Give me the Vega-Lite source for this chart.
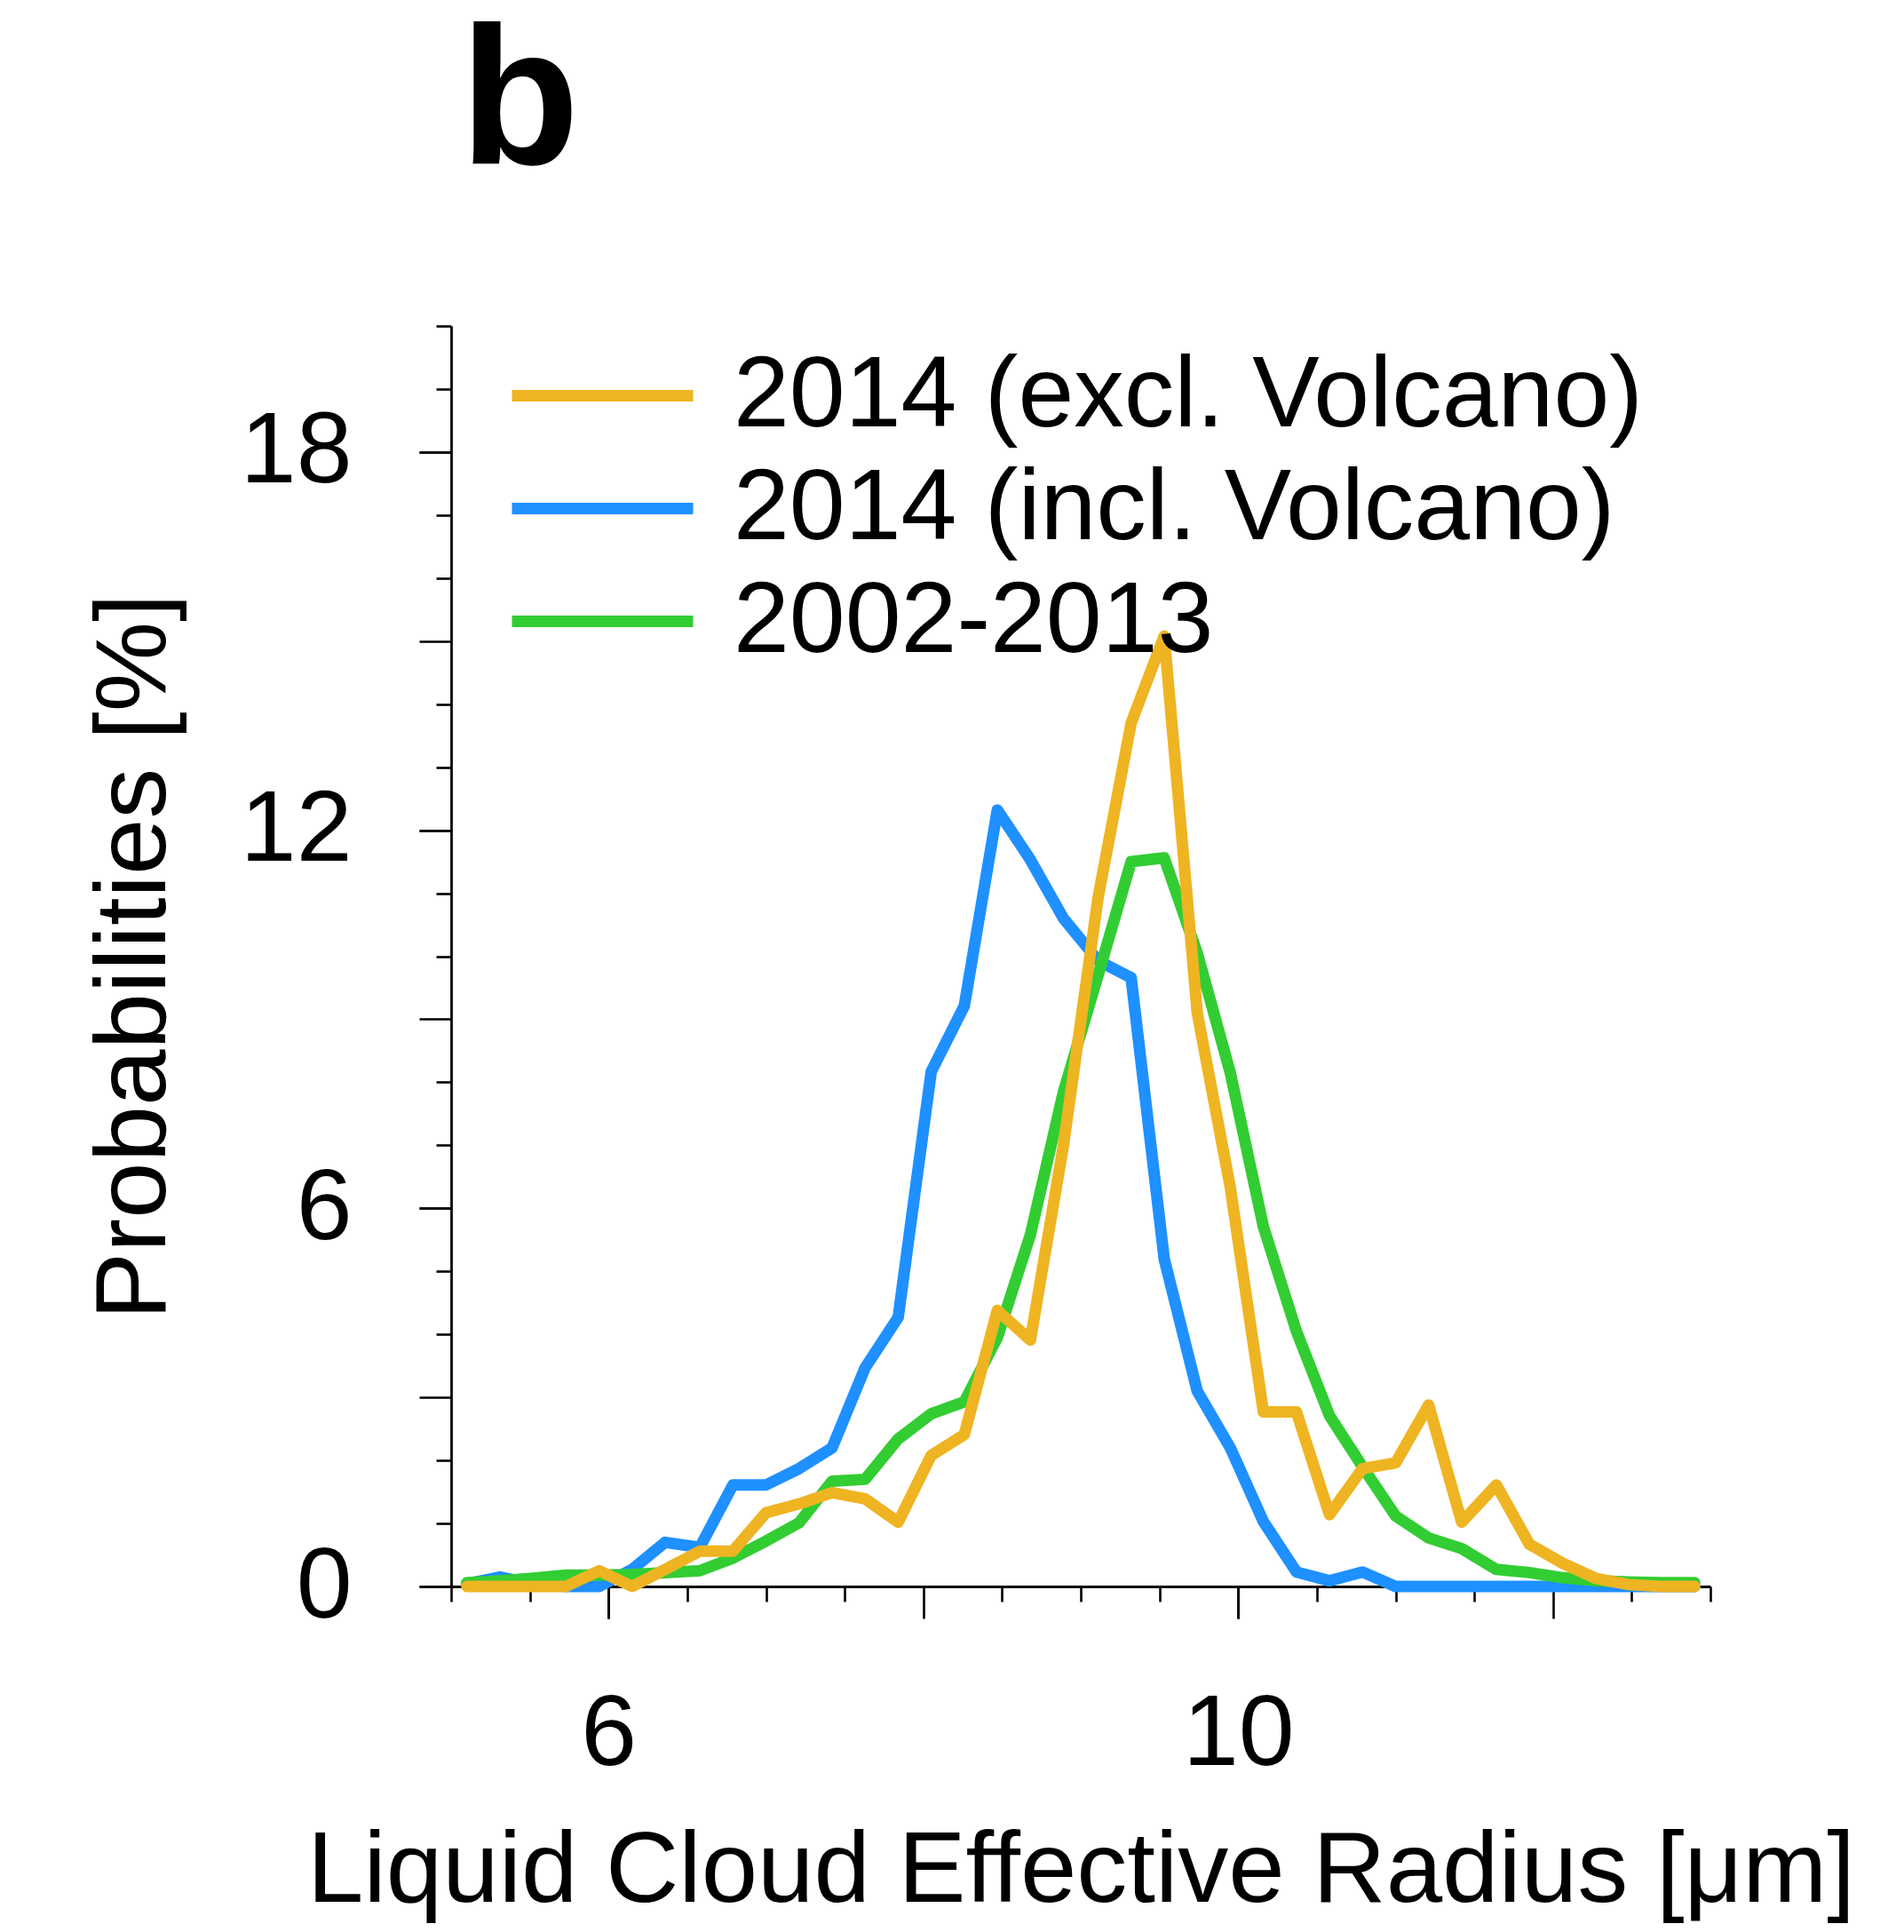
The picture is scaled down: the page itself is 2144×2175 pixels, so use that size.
{
  "$schema": "https://vega.github.io/schema/vega-lite/v6.json",
  "width": 1418,
  "height": 1419,
  "autosize": {"type": "none"},
  "padding": {"left": 508, "top": 367, "right": 218, "bottom": 389},
  "background": "white",
  "title": {"text": "b", "anchor": "start", "frame": "group", "baseline": "alphabetic", "fontSize": 220, "fontWeight": "bold", "font": "Liberation Sans", "color": "black", "offset": -38, "dx": 10},
  "config": {
    "view": {"stroke": null},
    "font": "Liberation Sans",
    "axis": {"grid": false, "domainColor": "black", "domainWidth": 2.8, "tickColor": "black", "tickWidth": 2.6, "labelColor": "black", "titleColor": "black", "labelFont": "Liberation Sans", "titleFont": "Liberation Sans", "labelFontSize": 113, "titleFontSize": 114, "titleFontWeight": "normal", "labelOverlap": false, "labelFlush": false, "labelLimit": 1000}
  },
  "datasets": {
    "series": [
      {"r": 5.10, "p": 0.04, "s": "2014 (incl. Volcano)"},
      {"r": 5.31, "p": 0.15, "s": "2014 (incl. Volcano)"},
      {"r": 5.52, "p": 0.04, "s": "2014 (incl. Volcano)"},
      {"r": 5.73, "p": 0.0, "s": "2014 (incl. Volcano)"},
      {"r": 5.94, "p": 0.0, "s": "2014 (incl. Volcano)"},
      {"r": 6.15, "p": 0.27, "s": "2014 (incl. Volcano)"},
      {"r": 6.36, "p": 0.70, "s": "2014 (incl. Volcano)"},
      {"r": 6.58, "p": 0.62, "s": "2014 (incl. Volcano)"},
      {"r": 6.79, "p": 1.61, "s": "2014 (incl. Volcano)"},
      {"r": 7.00, "p": 1.61, "s": "2014 (incl. Volcano)"},
      {"r": 7.21, "p": 1.87, "s": "2014 (incl. Volcano)"},
      {"r": 7.42, "p": 2.20, "s": "2014 (incl. Volcano)"},
      {"r": 7.63, "p": 3.47, "s": "2014 (incl. Volcano)"},
      {"r": 7.84, "p": 4.27, "s": "2014 (incl. Volcano)"},
      {"r": 8.05, "p": 8.17, "s": "2014 (incl. Volcano)"},
      {"r": 8.26, "p": 9.21, "s": "2014 (incl. Volcano)"},
      {"r": 8.47, "p": 12.32, "s": "2014 (incl. Volcano)"},
      {"r": 8.68, "p": 11.53, "s": "2014 (incl. Volcano)"},
      {"r": 8.89, "p": 10.6, "s": "2014 (incl. Volcano)"},
      {"r": 9.11, "p": 9.93, "s": "2014 (incl. Volcano)"},
      {"r": 9.32, "p": 9.66, "s": "2014 (incl. Volcano)"},
      {"r": 9.53, "p": 5.2, "s": "2014 (incl. Volcano)"},
      {"r": 9.74, "p": 3.1, "s": "2014 (incl. Volcano)"},
      {"r": 9.95, "p": 2.2, "s": "2014 (incl. Volcano)"},
      {"r": 10.16, "p": 1.03, "s": "2014 (incl. Volcano)"},
      {"r": 10.37, "p": 0.23, "s": "2014 (incl. Volcano)"},
      {"r": 10.58, "p": 0.09, "s": "2014 (incl. Volcano)"},
      {"r": 10.79, "p": 0.23, "s": "2014 (incl. Volcano)"},
      {"r": 11.00, "p": 0.0, "s": "2014 (incl. Volcano)"},
      {"r": 11.21, "p": 0.0, "s": "2014 (incl. Volcano)"},
      {"r": 11.42, "p": 0.0, "s": "2014 (incl. Volcano)"},
      {"r": 11.64, "p": 0.0, "s": "2014 (incl. Volcano)"},
      {"r": 11.85, "p": 0.0, "s": "2014 (incl. Volcano)"},
      {"r": 12.06, "p": 0.0, "s": "2014 (incl. Volcano)"},
      {"r": 12.27, "p": 0.0, "s": "2014 (incl. Volcano)"},
      {"r": 12.48, "p": 0.0, "s": "2014 (incl. Volcano)"},
      {"r": 12.69, "p": 0.0, "s": "2014 (incl. Volcano)"},
      {"r": 12.90, "p": 0.0, "s": "2014 (incl. Volcano)"},
      {"r": 5.10, "p": 0.06, "s": "2002-2013"},
      {"r": 5.31, "p": 0.09, "s": "2002-2013"},
      {"r": 5.52, "p": 0.13, "s": "2002-2013"},
      {"r": 5.73, "p": 0.18, "s": "2002-2013"},
      {"r": 5.94, "p": 0.18, "s": "2002-2013"},
      {"r": 6.15, "p": 0.19, "s": "2002-2013"},
      {"r": 6.36, "p": 0.22, "s": "2002-2013"},
      {"r": 6.58, "p": 0.25, "s": "2002-2013"},
      {"r": 6.79, "p": 0.45, "s": "2002-2013"},
      {"r": 7.00, "p": 0.72, "s": "2002-2013"},
      {"r": 7.21, "p": 1.01, "s": "2002-2013"},
      {"r": 7.42, "p": 1.67, "s": "2002-2013"},
      {"r": 7.63, "p": 1.70, "s": "2002-2013"},
      {"r": 7.84, "p": 2.34, "s": "2002-2013"},
      {"r": 8.05, "p": 2.74, "s": "2002-2013"},
      {"r": 8.26, "p": 2.93, "s": "2002-2013"},
      {"r": 8.47, "p": 3.95, "s": "2002-2013"},
      {"r": 8.68, "p": 5.58, "s": "2002-2013"},
      {"r": 8.89, "p": 7.85, "s": "2002-2013"},
      {"r": 9.11, "p": 9.7, "s": "2002-2013"},
      {"r": 9.32, "p": 11.5, "s": "2002-2013"},
      {"r": 9.53, "p": 11.56, "s": "2002-2013"},
      {"r": 9.74, "p": 10.05, "s": "2002-2013"},
      {"r": 9.95, "p": 8.15, "s": "2002-2013"},
      {"r": 10.16, "p": 5.71, "s": "2002-2013"},
      {"r": 10.37, "p": 4.05, "s": "2002-2013"},
      {"r": 10.58, "p": 2.71, "s": "2002-2013"},
      {"r": 10.79, "p": 1.9, "s": "2002-2013"},
      {"r": 11.00, "p": 1.12, "s": "2002-2013"},
      {"r": 11.21, "p": 0.77, "s": "2002-2013"},
      {"r": 11.42, "p": 0.60, "s": "2002-2013"},
      {"r": 11.64, "p": 0.27, "s": "2002-2013"},
      {"r": 11.85, "p": 0.22, "s": "2002-2013"},
      {"r": 12.06, "p": 0.14, "s": "2002-2013"},
      {"r": 12.27, "p": 0.09, "s": "2002-2013"},
      {"r": 12.48, "p": 0.07, "s": "2002-2013"},
      {"r": 12.69, "p": 0.06, "s": "2002-2013"},
      {"r": 12.90, "p": 0.06, "s": "2002-2013"},
      {"r": 5.10, "p": 0.0, "s": "2014 (excl. Volcano)"},
      {"r": 5.31, "p": 0.0, "s": "2014 (excl. Volcano)"},
      {"r": 5.52, "p": 0.0, "s": "2014 (excl. Volcano)"},
      {"r": 5.73, "p": 0.0, "s": "2014 (excl. Volcano)"},
      {"r": 5.94, "p": 0.25, "s": "2014 (excl. Volcano)"},
      {"r": 6.15, "p": 0.0, "s": "2014 (excl. Volcano)"},
      {"r": 6.36, "p": 0.27, "s": "2014 (excl. Volcano)"},
      {"r": 6.58, "p": 0.56, "s": "2014 (excl. Volcano)"},
      {"r": 6.79, "p": 0.56, "s": "2014 (excl. Volcano)"},
      {"r": 7.00, "p": 1.17, "s": "2014 (excl. Volcano)"},
      {"r": 7.21, "p": 1.31, "s": "2014 (excl. Volcano)"},
      {"r": 7.42, "p": 1.49, "s": "2014 (excl. Volcano)"},
      {"r": 7.63, "p": 1.39, "s": "2014 (excl. Volcano)"},
      {"r": 7.84, "p": 1.02, "s": "2014 (excl. Volcano)"},
      {"r": 8.05, "p": 2.08, "s": "2014 (excl. Volcano)"},
      {"r": 8.26, "p": 2.41, "s": "2014 (excl. Volcano)"},
      {"r": 8.47, "p": 4.38, "s": "2014 (excl. Volcano)"},
      {"r": 8.68, "p": 3.91, "s": "2014 (excl. Volcano)"},
      {"r": 8.89, "p": 7.0, "s": "2014 (excl. Volcano)"},
      {"r": 9.11, "p": 10.93, "s": "2014 (excl. Volcano)"},
      {"r": 9.32, "p": 13.7, "s": "2014 (excl. Volcano)"},
      {"r": 9.53, "p": 15.08, "s": "2014 (excl. Volcano)"},
      {"r": 9.74, "p": 9.1, "s": "2014 (excl. Volcano)"},
      {"r": 9.95, "p": 6.33, "s": "2014 (excl. Volcano)"},
      {"r": 10.16, "p": 2.77, "s": "2014 (excl. Volcano)"},
      {"r": 10.37, "p": 2.77, "s": "2014 (excl. Volcano)"},
      {"r": 10.58, "p": 1.14, "s": "2014 (excl. Volcano)"},
      {"r": 10.79, "p": 1.87, "s": "2014 (excl. Volcano)"},
      {"r": 11.00, "p": 1.96, "s": "2014 (excl. Volcano)"},
      {"r": 11.21, "p": 2.88, "s": "2014 (excl. Volcano)"},
      {"r": 11.42, "p": 1.02, "s": "2014 (excl. Volcano)"},
      {"r": 11.64, "p": 1.61, "s": "2014 (excl. Volcano)"},
      {"r": 11.85, "p": 0.67, "s": "2014 (excl. Volcano)"},
      {"r": 12.06, "p": 0.37, "s": "2014 (excl. Volcano)"},
      {"r": 12.27, "p": 0.13, "s": "2014 (excl. Volcano)"},
      {"r": 12.48, "p": 0.03, "s": "2014 (excl. Volcano)"},
      {"r": 12.69, "p": 0.0, "s": "2014 (excl. Volcano)"},
      {"r": 12.90, "p": 0.0, "s": "2014 (excl. Volcano)"}
    ]
  },
  "data": {"name": "series"},
  "layer": [
    {
      "mark": {"type": "line", "strokeWidth": 13, "strokeCap": "round", "strokeJoin": "round"},
      "encoding": {
        "x": {
          "field": "r", "type": "quantitative",
          "scale": {"domain": [5, 13], "nice": false, "zero": false},
          "axis": {
            "orient": "bottom",
            "values": [6, 10],
            "tickSize": 36,
            "domain": false,
            "format": "d",
            "labelPadding": 75,
            "title": "Liquid Cloud Effective Radius [μm]",
            "titleBaseline": "alphabetic",
            "titleY": 354
          }
        },
        "y": {
          "field": "p", "type": "quantitative",
          "scale": {"domain": [0, 20], "nice": false, "zero": true},
          "axis": {
            "orient": "left",
            "values": [0, 6, 12, 18],
            "tickSize": 36,
            "domain": false,
            "format": "d",
            "labelPadding": 76,
            "title": "Probabilities [%]",
            "titleBaseline": "alphabetic",
            "titleX": -323,
            "titleAlign": "center"
          }
        },
        "color": {
          "field": "s", "type": "nominal",
          "scale": {"domain": ["2014 (excl. Volcano)", "2014 (incl. Volcano)", "2002-2013"], "range": ["#EEB422", "#1E90FF", "#32CD32"]},
          "legend": {
            "orient": "none", "legendX": 114, "legendY": 22, "title": null,
            "symbolType": "M-3,0H3", "symbolSize": 4624, "symbolStrokeWidth": 13,
            "labelFontSize": 113, "labelFont": "Liberation Sans", "labelColor": "black",
            "labelOffset": 91, "labelLimit": 3000, "rowPadding": 13, "padding": 0
          }
        }
      }
    },
    {
      "transform": [{"filter": "false"}],
      "mark": {"type": "line"},
      "encoding": {
        "x": {
          "field": "r", "type": "quantitative",
          "axis": {
            "orient": "bottom",
            "values": [5, 5.5, 6, 6.5, 7, 7.5, 8, 8.5, 9, 9.5, 10, 10.5, 11, 11.5, 12, 12.5, 13],
            "tickSize": {"condition": {"test": "datum.value % 2 === 0", "value": 36}, "value": 17},
            "labels": false,
            "title": null
          }
        },
        "y": {
          "field": "p", "type": "quantitative",
          "axis": {
            "orient": "left",
            "values": [0, 1, 2, 3, 4, 5, 6, 7, 8, 9, 10, 11, 12, 13, 14, 15, 16, 17, 18, 19, 20],
            "tickSize": {"condition": {"test": "datum.value % 3 === 0", "value": 36}, "value": 17},
            "labels": false,
            "title": null
          }
        }
      }
    }
  ],
  "resolve": {"axis": {"x": "independent", "y": "independent"}}
}
